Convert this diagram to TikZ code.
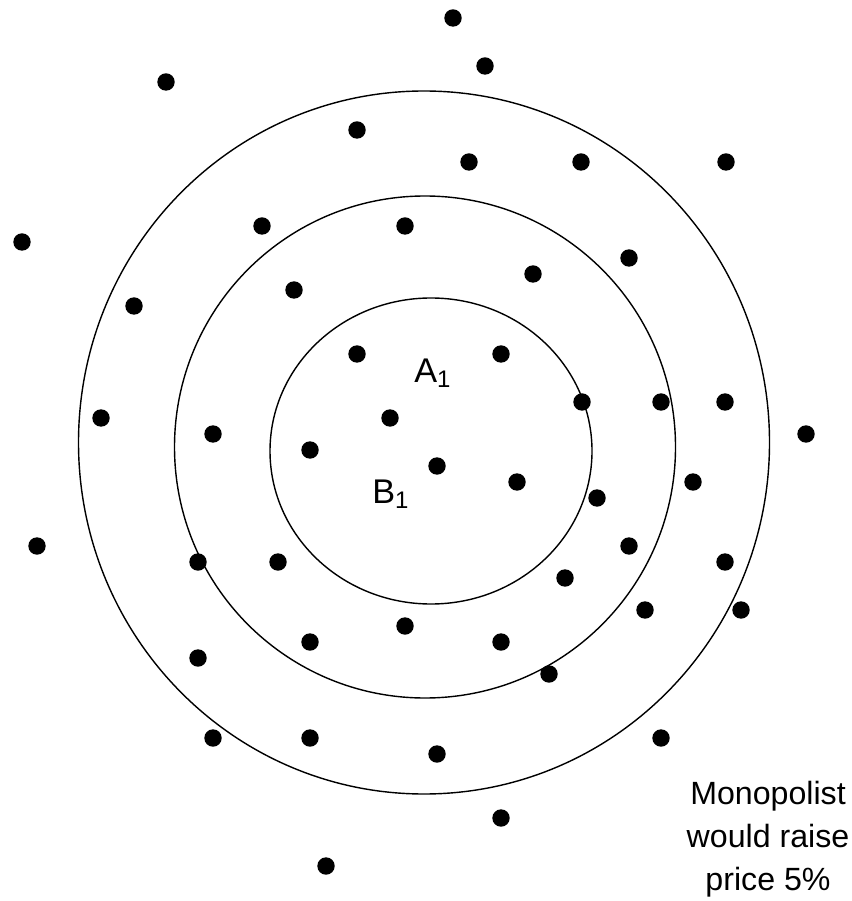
\documentclass[tikz,border=0pt]{standalone}
\usepackage{fontspec}
\setmainfont{Liberation Sans}
\usetikzlibrary{positioning}

\begin{document}
\begin{tikzpicture}[x=0.02cm, y=-0.02cm,
  ring/.style={draw=black, line width=0.8pt},
  firm/.style={fill=black},
  lbl/.style={inner sep=0pt, font=\fontsize{19.5}{22}\selectfont},
  note/.style={inner sep=0pt, align=center, font=\fontsize{18.3}{24.5}\selectfont}]
\useasboundingbox (0,0) rectangle (851,901);
% --- Market rings ---
\draw[ring] (431,451) ellipse [x radius=161, y radius=153];
\draw[ring] (425,447) ellipse [x radius=250.5, y radius=251];
\draw[ring] (424,442.5) ellipse [x radius=345.5, y radius=351.5];
% Firms (dots)
\foreach \px/\py in {453/18, 485/66, 166/82, 357/130, 469/162, 581/162, 726/162,
  22/242, 262/226, 405/226, 629/258, 533/274, 294/290, 134/306, 357/354, 501/354,
  390/418, 101/418, 213/434, 582/402, 661/402, 725/402, 806/434, 310/450, 437/466,
  517/482, 597/498, 693/482, 37/546, 198/562, 278/562, 629/546, 565/578, 725/562,
  645/610, 741/610, 405/626, 310/642, 501/642, 549/674, 198/658, 213/738, 310/738,
  437/754, 661/738, 501/818, 326/866} {
  \fill[firm] (\px,\py) circle (8.7);
}
% Labels
\node[lbl, anchor=base west] (labelA) at (414,382) {A\textsubscript{1}};
\node[lbl, anchor=base west] (labelB) at (372,503) {B\textsubscript{1}};
\node[note, anchor=north] (monop) at (768,781) {Monopolist\\would raise\\price 5\%};
\end{tikzpicture}
\end{document}
